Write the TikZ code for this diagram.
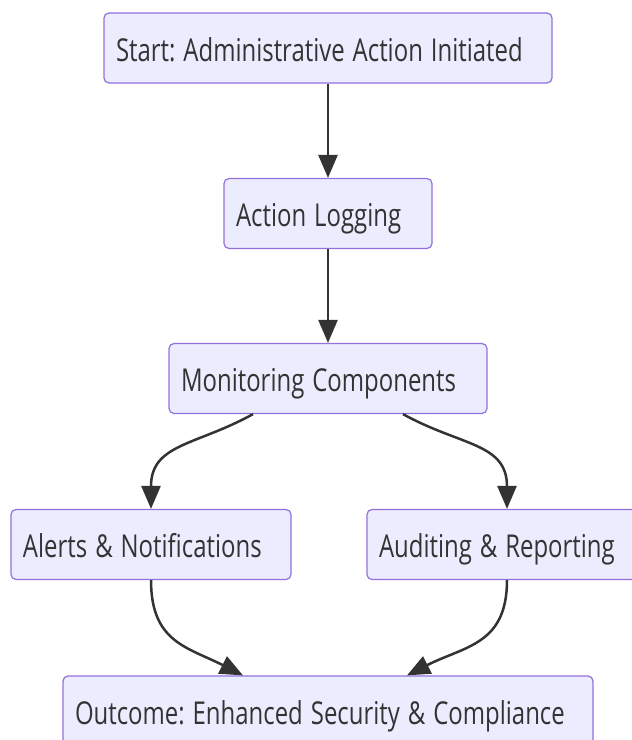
\documentclass[tikz,border=0pt]{standalone}
\usepackage{fontspec}
\setmainfont{Open Sans}
\usetikzlibrary{arrows.meta}
\definecolor{boxfill}{HTML}{ECECFF}
\definecolor{boxline}{HTML}{9370DB}
\definecolor{ink}{HTML}{333333}
\frenchspacing
\newcommand{\narrowtext}[1]{\scalebox{0.76}[1]{#1}}

\tikzset{
  stage/.style={draw=boxline, fill=boxfill, line width=1.2pt, rounded corners=5pt,
    text=ink, font=\fontsize{31.5}{36}\selectfont, align=left, inner xsep=12pt,
    text height=32pt, text depth=5.6pt, minimum height=70pt, anchor=center},
  flow/.style={draw=ink, line width=2.5pt, -{Triangle[length=23pt, width=19pt]}}
}

\begin{document}
\begin{tikzpicture}[x=1pt, y=-1pt]
  \useasboundingbox (0,0) rectangle (632,740);
  \clip (0,0) rectangle (632,740);

  % boxes, top to bottom
  \node[stage, minimum width=448pt, text width=424pt] (start) at (328,48) {\narrowtext{Start: Administrative Action Initiated}};
  \node[stage, minimum width=208pt, text width=184pt] (logging) at (328,213.5) {\narrowtext{Action Logging}};
  \node[stage, minimum width=318pt, text width=294pt] (monitor) at (328,378.5) {\narrowtext{Monitoring Components}};
  \node[stage, minimum width=280pt, text width=256pt] (alerts) at (151,544.5) {\narrowtext{Alerts \& Notifications}};
  \node[stage, minimum width=280pt, text width=256pt] (audit) at (507,544.5) {\narrowtext{Auditing \& Reporting}};
  \node[stage, minimum width=530pt, text width=506pt] (outcome) at (328,711) {\narrowtext{Outcome: Enhanced Security \& Compliance}};

  % straight links
  \draw[flow] (start) -- (logging);
  \draw[flow] (logging) -- (monitor);

  % split and join
  \draw[flow] ([xshift=-75pt]monitor.south) to[out=209, in=90, looseness=1.2] (alerts.north);
  \draw[flow] ([xshift=75pt]monitor.south) to[out=-29, in=90, looseness=1.2] (audit.north);
  \draw[flow] (alerts.south) to[out=-90, in=153, looseness=1.2] ([xshift=-85pt]outcome.north);
  \draw[flow] (audit.south) to[out=-90, in=27, looseness=1.2] ([xshift=79pt]outcome.north);
\end{tikzpicture}
\end{document}
